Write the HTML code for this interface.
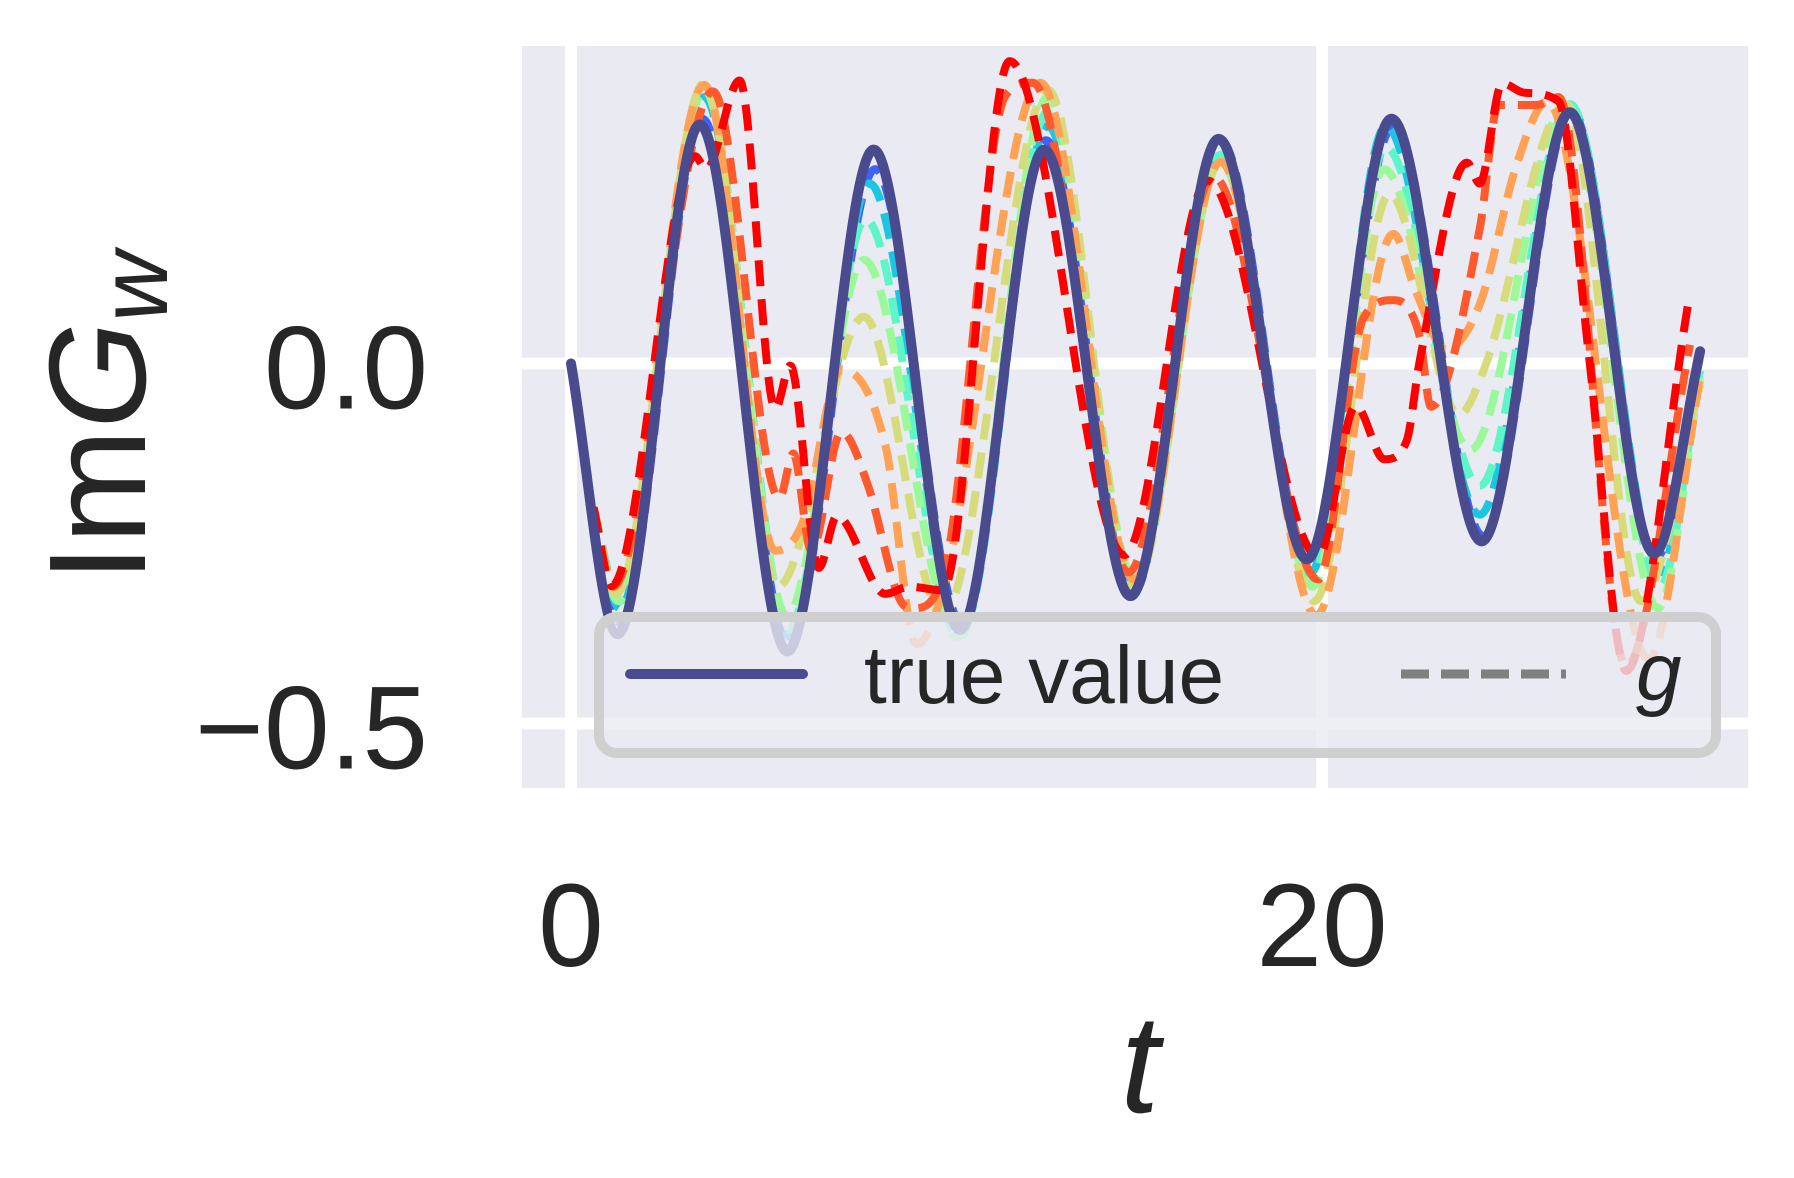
<!DOCTYPE html>
<html><head><meta charset="utf-8"><style>
html,body{margin:0;padding:0;background:#fff;}
svg{display:block;font-family:"Liberation Sans",sans-serif;}
</style></head><body>
<svg id="chart" width="1794" height="1178" viewBox="0 0 1794 1178">
<rect x="522" y="46" width="1226" height="742" fill="#eaeaf2"/>
<g id="grid"></g>
<g id="series"></g>
<g>
<rect x="599" y="617" width="1117" height="136" rx="18" fill="rgba(234,234,242,0.8)" stroke="#cfcfcf" stroke-width="10"/>
<line x1="630" y1="674" x2="803" y2="674" stroke="#4a4a8e" stroke-width="10" stroke-linecap="round"/>
<text x="864" y="703" font-size="82" fill="#262626">true value</text>
<line x1="1401" y1="674" x2="1566" y2="674" stroke="#808080" stroke-width="9" stroke-dasharray="28 12"/>
<text x="1636" y="700" font-size="82" font-style="italic" fill="#262626">g</text>
</g>
<g id="ticks"></g>
<text x="1140" y="1112" font-size="140" font-style="italic" fill="#262626" text-anchor="middle">t</text>
<text transform="translate(145,417) rotate(-90)" font-size="138" fill="#262626" text-anchor="middle">Im<tspan font-style="italic">G</tspan><tspan font-style="italic" font-size="97" dy="22">w</tspan></text>
</svg>
<script>
const xTicks=[0,20];
const yTicks=[0,-0.5];
const xTickLabels=["0","20"];
const yTickLabels=["0.0","\u22120.5"];
const trueT=[0,1.24,3.43,5.76,8.06,10.36,12.6,14.9,17.25,19.6,21.85,24.25,26.6,28.85,30.07];
const trueY=[0,-0.376,0.332,-0.40,0.297,-0.37,0.297,-0.323,0.312,-0.272,0.34,-0.247,0.349,-0.264,0.017];
const blueT=[0.6,1.3,3.5,5.8,8.1,10.4,12.65,14.95,17.3,19.65,21.9,24.3,26.65,28.9,30.07];
const blueY=[-0.2,-0.36,0.34,-0.39,0.27,-0.36,0.31,-0.32,0.31,-0.27,0.33,-0.24,0.35,-0.27,0.01];
const cyanT=[0.6,1.3,3.55,5.85,7.95,10.4,12.7,15.0,17.3,19.7,21.7,24.2,26.6,29.0,30.07];
const cyanY=[-0.2,-0.34,0.37,-0.38,0.25,-0.37,0.33,-0.31,0.30,-0.29,0.33,-0.21,0.36,-0.29,0.0];
const aquaT=[0.6,1.3,3.55,5.8,7.85,10.35,12.7,15.0,17.3,19.7,21.7,24.2,26.6,29.0,30.07];
const aquaY=[-0.2,-0.33,0.38,-0.37,0.20,-0.38,0.35,-0.30,0.29,-0.30,0.30,-0.17,0.36,-0.31,-0.01];
const greenT=[0.6,1.25,3.55,5.75,7.8,10.3,12.7,15.0,17.3,19.75,21.65,23.95,26.5,28.95,30.07];
const greenY=[-0.2,-0.33,0.38,-0.35,0.144,-0.38,0.37,-0.30,0.28,-0.31,0.27,-0.12,0.36,-0.34,-0.02];
const yellowT=[0.6,1.2,3.55,5.5,7.8,9.9,12.7,15.0,17.3,19.8,21.8,23.65,24.3,26.5,28.5,30.07];
const yellowY=[-0.2,-0.32,0.39,-0.31,0.065,-0.35,0.38,-0.31,0.28,-0.33,0.235,-0.071,-0.01,0.36,-0.33,-0.03];
const orangeT=[0.6,1.15,3.55,5.44,6.16,7.2,8.37,9.2,9.9,12.5,15.0,17.3,19.85,21.9,22.5,23.3,24.2,25.2,26.0,28.7,30.07];
const orangeY=[-0.2,-0.31,0.387,-0.26,-0.222,-0.008,-0.113,-0.39,-0.315,0.39,-0.30,0.28,-0.35,0.18,0.10,0.02,0.082,0.279,0.364,-0.41,-0.02];
const redOrangeT=[0.6,1.1,3.78,5.55,5.92,6.4,7.2,7.9,8.75,9.1,9.9,11.57,12.3,14.85,17.1,19.9,21.1,21.9,22.6,22.9,24.2,24.7,25.7,26.3,28.1,29.8];
const redOrangeY=[-0.2,-0.31,0.378,-0.187,-0.125,-0.26,-0.095,-0.168,-0.327,-0.34,-0.297,0.372,0.39,-0.29,0.26,-0.30,0.063,0.088,0.038,-0.06,0.187,0.359,0.359,0.37,-0.42,0.026];
const redT=[0.6,1.08,3.3,3.6,4.49,5.44,5.84,6.6,7.08,8.37,9.0,9.9,11.68,14.74,16.96,19.9,20.9,21.66,22.25,22.6,23.86,24.2,24.8,25.4,26.3,27.1,28.1,29.75];
const redY=[-0.2,-0.309,0.288,0.27,0.393,-0.063,-0.003,-0.284,-0.212,-0.32,-0.31,-0.315,0.42,-0.266,0.254,-0.268,-0.059,-0.133,-0.108,0.003,0.279,0.25,0.389,0.376,0.364,0.015,-0.427,0.083];

const NS="http://www.w3.org/2000/svg";
function xs(t){return 571+t*37.55;}
function ys(v){return 363.5-v*720;}
function mk(tag,attrs,parent){const e=document.createElementNS(NS,tag);for(const k in attrs)e.setAttribute(k,attrs[k]);parent.appendChild(e);return e;}

const grid=document.getElementById('grid');
xTicks.forEach(t=>{const l=mk('line',{x1:xs(t),x2:xs(t),y1:46,y2:788,stroke:'#fff','stroke-width':12},grid);

});
yTicks.forEach(v=>{const l=mk('line',{x1:522,x2:1748,y1:ys(v),y2:ys(v),stroke:'#fff','stroke-width':12},grid);

});

const ticks=document.getElementById('ticks');
xTicks.forEach((t,i)=>{const e=mk('text',{x:xs(t),y:966,'font-size':118,fill:'#262626','text-anchor':'middle'},ticks);e.textContent=xTickLabels[i];

});
yTicks.forEach((v,i)=>{const e=mk('text',{x:428,y:ys(v)+45,'font-size':118,fill:'#262626','text-anchor':'end'},ticks);e.textContent=yTickLabels[i];

});

function pathFor(T,Y){
  const n=T.length,x=T.map(xs),y=Y.map(ys);
  const d=[],m=new Array(n);
  for(let i=0;i<n-1;i++)d.push((y[i+1]-y[i])/(x[i+1]-x[i]));
  m[0]=d[0];m[n-1]=d[n-2];
  for(let i=1;i<n-1;i++){m[i]=(d[i-1]*d[i]<=0)?0:(d[i-1]+d[i])/2;}
  for(let i=0;i<n-1;i++){if(d[i]===0){m[i]=0;m[i+1]=0;continue;}
    const a=m[i]/d[i],b=m[i+1]/d[i],s=a*a+b*b;if(s>9){const tt=3/Math.sqrt(s);m[i]=tt*a*d[i];m[i+1]=tt*b*d[i];}}
  let p=`M${x[0]},${y[0]}`;
  for(let i=0;i<n-1;i++){const h=(x[i+1]-x[i])/3;
    p+=` C${x[i]+h},${y[i]+m[i]*h} ${x[i+1]-h},${y[i+1]-m[i+1]*h} ${x[i+1]},${y[i+1]}`;}
  return p;
}
const S=document.getElementById('series');
const dashed=[
 [blueT,blueY,'#4062fa','series-blue'],
 [cyanT,cyanY,'#1cc6e0','series-cyan'],
 [aquaT,aquaY,'#5ef5c8','series-aqua'],
 [greenT,greenY,'#9cf99a','series-green'],
 [yellowT,yellowY,'#d6dc7c','series-yellow'],
 [orangeT,orangeY,'#ffa256','series-orange'],
 [redOrangeT,redOrangeY,'#ff5a2e','series-red-orange'],
 [redT,redY,'#ff0000','series-red']];
dashed.forEach(s=>{const p=mk('path',{d:pathFor(s[0],s[1]),fill:'none',stroke:s[2],'stroke-width':8,'stroke-dasharray':'26 13'},S);

});
const tp=mk('path',{d:pathFor(trueT,trueY),fill:'none',stroke:'#4a4a8e','stroke-width':10,'stroke-linecap':'round'},S);


</script>
</body></html>
